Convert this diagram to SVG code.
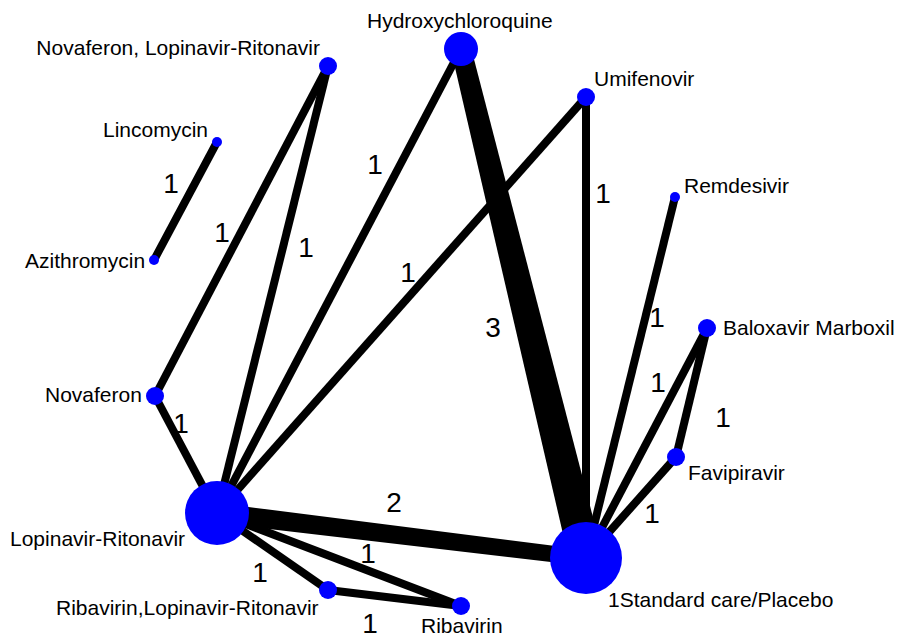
<svg xmlns="http://www.w3.org/2000/svg" width="898" height="642" viewBox="0 0 898 642">
<style>
.e{stroke:#000;stroke-width:8;fill:none}
.w{fill:#000}
.n{fill:#0000ff}
.t{font-family:"Liberation Sans",Arial,sans-serif;font-size:21px;fill:#000}
.l{font-family:"Liberation Sans",Arial,sans-serif;font-size:28px;fill:#000;text-anchor:middle}
</style>
<rect width="898" height="642" fill="#fff"/>
<g id="connectors">
<line class="e" x1="217" y1="142" x2="154" y2="260"/>
<line class="e" x1="328" y1="66" x2="155" y2="396"/>
<line class="e" x1="328" y1="66" x2="217" y2="513"/>
<line class="e" x1="461" y1="49" x2="217" y2="513"/>
<line class="e" x1="586" y1="97" x2="217" y2="513"/>
<line class="e" x1="155" y1="396" x2="217" y2="513"/>
<polygon class="w" points="451.3,51.4 470.7,46.6 602.5,554 569.5,562.1"/>
<polygon class="w" points="218.2,503.1 587,550.1 585,565.9 215.8,522.9"/>
<line class="e" x1="586" y1="97" x2="586" y2="558"/>
<line class="e" x1="675" y1="197" x2="586" y2="558"/>
<line class="e" x1="707" y1="328" x2="586" y2="558"/>
<line class="e" x1="707" y1="328" x2="676" y2="457"/>
<line class="e" x1="676" y1="457" x2="586" y2="558"/>
<line class="e" x1="217" y1="513" x2="328" y2="590"/>
<line class="e" x1="217" y1="513" x2="461" y2="606"/>
<line class="e" x1="328" y1="590" x2="461" y2="606"/>
<text class="l" x="171" y="193">1</text>
<text class="l" x="222" y="242">1</text>
<text class="l" x="306" y="257">1</text>
<text class="l" x="375" y="174">1</text>
<text class="l" x="408" y="282">1</text>
<text class="l" x="603" y="203">1</text>
<text class="l" x="493" y="337">3</text>
<text class="l" x="657" y="327">1</text>
<text class="l" x="658" y="392">1</text>
<text class="l" x="723" y="427">1</text>
<text class="l" x="652" y="523">1</text>
<text class="l" x="394" y="512">2</text>
<text class="l" x="368" y="563">1</text>
<text class="l" x="260" y="582">1</text>
<text class="l" x="370" y="633">1</text>
<text class="l" x="181" y="433">1</text>
</g>
<g id="hydroxychloroquine"><circle class="n" cx="461" cy="49" r="17"/><text class="t" x="367" y="28">Hydroxychloroquine</text></g>
<g id="novaferon-lopinavir-ritonavir"><circle class="n" cx="328" cy="66" r="9"/><text class="t" x="320" y="55" text-anchor="end">Novaferon, Lopinavir-Ritonavir</text></g>
<g id="lincomycin"><circle class="n" cx="217" cy="142" r="5"/><text class="t" x="103" y="137">Lincomycin</text></g>
<g id="azithromycin"><circle class="n" cx="154" cy="260" r="5"/><text class="t" x="25" y="268">Azithromycin</text></g>
<g id="umifenovir"><circle class="n" cx="586" cy="97" r="9"/><text class="t" x="594" y="86">Umifenovir</text></g>
<g id="remdesivir"><circle class="n" cx="675" cy="197" r="5"/><text class="t" x="684" y="193">Remdesivir</text></g>
<g id="baloxavir-marboxil"><circle class="n" cx="707" cy="328" r="9"/><text class="t" x="723" y="335">Baloxavir Marboxil</text></g>
<g id="favipiravir"><circle class="n" cx="676" cy="457" r="9"/><text class="t" x="688" y="480">Favipiravir</text></g>
<g id="standard-care-placebo"><circle class="n" cx="586" cy="558" r="36"/><text class="t" x="608" y="607">1Standard care/Placebo</text></g>
<g id="novaferon"><circle class="n" cx="155" cy="396" r="9"/><text class="t" x="45" y="402">Novaferon</text></g>
<g id="lopinavir-ritonavir"><circle class="n" cx="217" cy="513" r="32"/><text class="t" x="10" y="546">Lopinavir-Ritonavir</text></g>
<g id="ribavirin-lopinavir-ritonavir"><circle class="n" cx="328" cy="590" r="9"/><text class="t" x="56" y="615">Ribavirin,Lopinavir-Ritonavir</text></g>
<g id="ribavirin"><circle class="n" cx="461" cy="606" r="9"/><text class="t" x="421" y="633">Ribavirin</text></g>
</svg>
